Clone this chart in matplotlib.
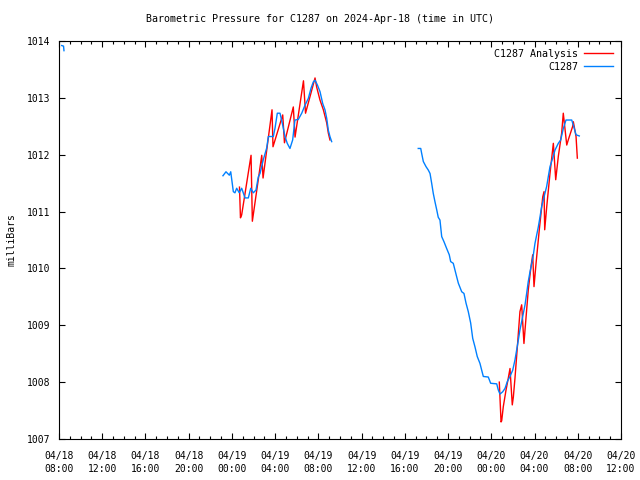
import numpy as np
import pandas as pd
import matplotlib
matplotlib.use("Agg")
import matplotlib.pyplot as plt
import matplotlib.dates as mdates
from matplotlib.ticker import MultipleLocator

plt.rcParams['font.family'] = 'DejaVu Sans Mono'
plt.rcParams['font.size'] = 7

start = pd.Timestamp("2024-04-18 08:00")
x_end = pd.Timestamp("2024-04-20 12:00")

# hours after 04/18 08:00 UTC, pressure in mb; one list pair per unbroken piece
obs_h1 = [0.25, 0.42, 0.46]
obs_p1 = [1013.92, 1013.91, 1013.83]

obs_h2 = [15.17, 15.45, 15.76, 15.89, 16.13, 16.28, 16.44, 16.68, 16.90, 17.05,
          17.21, 17.52, 17.74, 17.98, 18.23, 18.44, 18.60, 18.90, 19.22, 19.37,
          19.83, 19.99, 20.20, 20.45, 20.70, 20.91, 21.12, 21.37, 21.62, 21.83,
          22.14, 22.46, 22.76, 23.07, 23.32, 23.53, 23.69, 23.90, 24.15, 24.40,
          24.61, 24.77, 24.92, 25.07, 25.23]
obs_p2 = [1011.63, 1011.70, 1011.64, 1011.70, 1011.35, 1011.33, 1011.41, 1011.33, 1011.41, 1011.33,
          1011.24, 1011.24, 1011.41, 1011.33, 1011.38, 1011.61, 1011.67, 1011.91, 1012.12, 1012.32,
          1012.32, 1012.47, 1012.73, 1012.73, 1012.52, 1012.32, 1012.20, 1012.11, 1012.26, 1012.61,
          1012.62, 1012.73, 1012.87, 1012.99, 1013.17, 1013.28, 1013.31, 1013.23, 1013.11, 1012.90,
          1012.79, 1012.64, 1012.43, 1012.32, 1012.23]

obs_h3 = [33.24, 33.47, 33.56, 33.71, 33.96, 34.17, 34.33, 34.48, 34.63, 34.79,
          34.95, 35.09, 35.25, 35.41, 35.62, 35.87, 36.11, 36.24, 36.48, 36.64,
          36.80, 36.95, 37.26, 37.47, 37.66, 37.87, 38.09, 38.28, 38.49, 38.70,
          38.95, 39.11, 39.26, 39.72, 39.94, 40.50, 40.65, 40.80, 41.05, 41.27,
          41.48, 41.73, 41.98, 42.19, 42.35, 42.50, 42.65, 42.90, 43.12, 43.27,
          43.42, 43.58, 43.74, 43.89, 44.04, 44.20, 44.35, 44.51, 44.66, 44.88,
          45.12, 45.27, 45.43, 45.68, 45.89, 46.20, 46.42, 46.66, 46.91, 47.44,
          47.59, 47.84, 48.14]
obs_p3 = [1012.11, 1012.11, 1012.02, 1011.88, 1011.79, 1011.73, 1011.67, 1011.50, 1011.32, 1011.17,
          1011.03, 1010.90, 1010.85, 1010.56, 1010.47, 1010.35, 1010.24, 1010.12, 1010.09, 1009.97,
          1009.85, 1009.74, 1009.59, 1009.56, 1009.39, 1009.24, 1009.04, 1008.77, 1008.62, 1008.45,
          1008.33, 1008.21, 1008.10, 1008.09, 1007.98, 1007.97, 1007.86, 1007.79, 1007.83, 1007.89,
          1008.01, 1008.10, 1008.21, 1008.39, 1008.57, 1008.74, 1008.92, 1009.15, 1009.36, 1009.56,
          1009.77, 1009.94, 1010.09, 1010.24, 1010.44, 1010.59, 1010.73, 1010.91, 1011.09, 1011.26,
          1011.44, 1011.61, 1011.79, 1011.94, 1012.08, 1012.20, 1012.26, 1012.46, 1012.61, 1012.61,
          1012.52, 1012.35, 1012.33]

ana_h1 = [16.70, 16.79, 16.90, 17.77, 17.89, 18.76, 18.88, 19.71, 19.80, 20.70,
          20.86, 21.68, 21.84, 22.62, 22.81, 23.69, 23.84, 24.15, 24.46, 24.77,
          24.92, 25.07]
ana_p1 = [1011.43, 1010.89, 1010.94, 1011.99, 1010.83, 1011.99, 1011.59, 1012.79, 1012.14, 1012.70,
          1012.21, 1012.84, 1012.31, 1013.30, 1012.73, 1013.35, 1013.19, 1012.96, 1012.79, 1012.56,
          1012.38, 1012.26]

ana_h2 = [40.74, 40.90, 40.96, 41.11, 41.36, 41.57, 41.73, 41.94, 42.04, 42.19,
          42.41, 42.65, 42.81, 43.02, 43.12, 43.42, 43.67, 43.83, 43.95, 44.14,
          44.44, 44.76, 44.88, 44.94, 45.13, 45.43, 45.74, 45.96, 46.20, 46.51,
          46.66, 46.98, 47.12, 47.53, 47.59, 47.84, 47.96]
ana_p2 = [1008.00, 1007.30, 1007.32, 1007.57, 1007.86, 1008.07, 1008.24, 1007.60, 1007.74, 1008.07,
          1008.62, 1009.24, 1009.36, 1008.68, 1008.92, 1009.62, 1010.03, 1010.24, 1009.68, 1010.09,
          1010.68, 1011.26, 1011.35, 1010.68, 1011.09, 1011.67, 1012.20, 1011.56, 1011.97, 1012.38,
          1012.73, 1012.17, 1012.26, 1012.50, 1012.58, 1012.32, 1011.94]


def to_time(hours):
    return start + pd.to_timedelta(np.array(hours), unit="h")


fig = plt.figure(figsize=(6.4, 4.8), dpi=100)
ax = fig.add_axes([59 / 640, 41 / 480, 562 / 640, 398 / 480])

red = '#ff0000'
blue = '#0080ff'

for i, (h, p) in enumerate([(ana_h1, ana_p1), (ana_h2, ana_p2)]):
    ax.plot(to_time(h), p, color=red, lw=1.0,
            label='C1287 Analysis' if i == 0 else None)
for i, (h, p) in enumerate([(obs_h1, obs_p1), (obs_h2, obs_p2), (obs_h3, obs_p3)]):
    ax.plot(to_time(h), p, color=blue, lw=1.0,
            label='C1287' if i == 0 else None)

ax.set_xlim(start, x_end)
ax.set_ylim(1007, 1014)
ax.xaxis.set_major_locator(mdates.HourLocator(byhour=range(0, 24, 4)))
ax.xaxis.set_minor_locator(mdates.HourLocator())
ax.xaxis.set_major_formatter(mdates.DateFormatter('%m/%d\n%H:%M'))
ax.yaxis.set_major_locator(MultipleLocator(1))
ax.yaxis.set_major_formatter(lambda v, pos: f'{v:.0f}')

ax.tick_params(which='both', direction='in', top=True, right=True, width=0.8)
ax.tick_params(which='major', length=4)
ax.tick_params(which='minor', length=2)
ax.tick_params(axis='x', which='major', pad=9)
ax.tick_params(axis='y', which='major', pad=6)
for s in ax.spines.values():
    s.set_linewidth(0.8)

ax.set_ylabel('milliBars', labelpad=8)
fig.suptitle('Barometric Pressure for C1287 on 2024-Apr-18 (time in UTC)',
             y=1 - 19 / 480, va='center', fontsize=7.2)

leg = ax.legend(loc='upper right', frameon=False, markerfirst=False,
                handlelength=2.9, handletextpad=0.6, labelspacing=0.3,
                borderaxespad=0.6, borderpad=0.2, fontsize=7.2)
for t in leg.get_texts():
    t.set_ha('right')

fig.canvas.draw()
for lab in ax.get_xticklabels():
    lab.set_linespacing(1.35)

fig.savefig('out.png', dpi=100)
